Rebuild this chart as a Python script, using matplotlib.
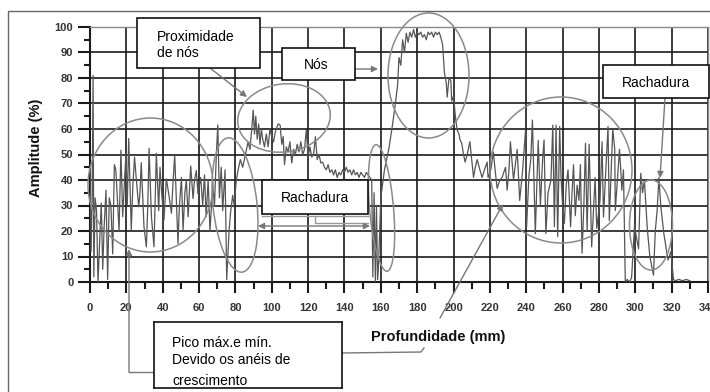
import matplotlib
matplotlib.use('Agg')
import matplotlib.pyplot as plt
from matplotlib.patches import Ellipse, Rectangle
from matplotlib.ticker import MultipleLocator

plt.rcParams['font.family'] = ['Liberation Sans', 'DejaVu Sans']

# ---- data ----
depth = [0, 0.6, 1.2, 1.7, 2.1, 2.8, 3.6, 4.4, 5.2, 6.2, 7.0, 7.8, 8.8, 9.7, 10.6, 11.5,
         12.5, 13.4, 14.2, 15.0, 16.0, 17.0, 18.0, 19.0, 19.8, 20.5, 21.3, 22.7, 23.6, 24.5,
         25.4, 26.8, 27.5, 28.2, 29.7, 31.0, 31.8, 32.5, 33.8, 35.2, 36.5, 37.8, 38.5, 39.3,
         40.7, 42.0, 43.3, 44.8, 45.6, 46.6, 48.4, 49.2, 50.3, 51.2, 52.2, 53.0, 54.0, 55.4,
         56.7, 57.5, 58.5, 59.4, 60.9, 62.0, 63.0, 63.9, 65.0, 66.0, 67.5, 68.5, 69.5, 70.3,
         71.2, 72.2, 73.0, 74.3, 75.2, 76.5, 77.3, 78.5, 79.3, 80.5, 81.5, 82.7, 84.0, 85.5,
         87.0, 88.0, 89.0, 89.8, 90.5, 91.2, 92.0, 92.8, 93.5, 94.3, 95.0, 96.0, 97.0, 98.0,
         99.0, 100.0, 101.0, 102.0, 103.5, 104.6, 105.5, 106.3, 107.0, 108.0, 109.0, 110.0,
         111.0, 112.0, 113.0, 114.0, 115.0, 116.0, 117.0, 118.0, 119.0, 120.0, 121.0, 122.0,
         123.0, 124.0, 125.0, 126.0, 127.0, 128.0, 129.0, 130.0, 131.0, 132.0, 133.0, 134.0,
         135.0, 136.0, 137.0, 138.0, 139.0, 140.0, 141.0, 142.0, 143.0, 144.0, 145.0, 146.0,
         147.0, 148.0, 149.0, 150.0, 151.0, 152.0, 153.0, 154.0, 155.0, 155.6, 156.3, 157.0,
         157.6, 158.2, 158.7, 160.0, 162.0, 164.6, 166.5, 168.0, 169.2, 170.0, 171.0, 172.0,
         173.0, 174.0, 175.0, 176.0, 177.0, 178.0, 179.0, 180.0, 181.0, 182.0, 183.0, 184.0,
         185.0, 186.0, 187.0, 188.0, 189.0, 190.0, 191.0, 192.0, 193.0, 194.0, 195.0, 196.0,
         196.5, 197.5, 198.5, 199.0, 200.0, 201.0, 202.0, 203.0, 203.6, 204.5, 205.5, 206.4,
         207.5, 209.0, 210.0, 211.0, 212.0, 213.0, 214.5, 215.7, 217.0, 218.5, 219.0, 220.5,
         221.9, 223.0, 224.0, 225.5, 226.7, 228.6, 229.5, 230.5, 231.3, 233.0, 235.0, 236.4,
         237.2, 238.0, 239.6, 240.2, 241.5, 242.5, 243.4, 245.0, 246.6, 247.8, 249.0, 249.8,
         250.8, 252.0, 253.6, 254.6, 255.5, 256.4, 257.3, 258.4, 259.1, 260.0, 261.0, 262.0,
         263.0, 264.4, 265.2, 266.0, 267.0, 268.0, 269.0, 269.8, 270.7, 271.7, 272.6, 273.5,
         274.6, 276.0, 277.9, 278.8, 280.6, 281.7, 282.5, 285.0, 285.7, 287.6, 288.7, 289.0,
         291.3, 292.0, 292.6, 293.5, 294.5, 295.5, 297.0, 298.0, 299.6, 300.5, 301.8, 303.0,
         304.0, 305.0, 306.6, 308.0, 310.0, 311.0, 312.0, 313.0, 314.0, 315.7, 318.0, 319.6,
         321.0, 322.0, 324.0, 326.0, 328.0, 330.0]
amplitude = [44, 12, 34, 81, 2, 33, 28, 0, 14, 31, 5, 22, 36, 1, 33, 30,
             11, 46, 44, 33, 20, 51.7, 25.6, 40, 50.5, 30, 56.3, 20.4, 38, 49,
             41, 29.5, 35, 46.8, 21.7, 13.8, 30, 52.4, 25.6, 13.8, 50.5, 28, 45, 36,
             24.3, 40.5, 34.6, 27, 38, 49.8, 15, 30, 41, 20.4, 35, 40, 25.6, 45.5,
             32.7, 40, 43.7, 34.6, 41, 30, 42, 25.6, 40, 20, 38, 30, 50, 61.6,
             33, 45, 28, 44, 1, 20, 27, 34, 30, 40, 44, 48, 45, 50,
             55, 52, 60, 67.4, 58, 65, 56, 62, 54, 60, 56, 53, 58, 53,
             60, 57, 55, 59, 62, 61.5, 54, 57, 46, 53, 51, 55,
             46.7, 52, 50, 54, 51, 55, 50, 52, 59.6, 49, 53, 49,
             50, 57, 48, 50, 46.7, 47, 45, 44, 46, 43, 44, 42,
             44, 41, 43, 42, 44, 43, 45, 43, 44, 42, 44, 42,
             43, 41, 43, 42, 41, 43, 42, 41, 40, 2, 35, 0,
             30, 1, 6, 33, 44, 53, 62, 70, 77, 88, 85, 95,
             90, 97.6, 94, 98, 96, 99, 96, 98, 97, 98, 96, 97,
             95, 98, 97, 98, 96, 98, 97, 98, 96, 93, 82, 78,
             72.5, 80, 79, 71, 73, 65, 59.6, 58, 55.7, 54.5, 50, 47,
             50, 55, 48, 41, 45, 48, 44, 41, 44, 47, 41, 44,
             51, 43, 36.7, 40, 41, 45, 36, 44, 55, 40, 52, 32,
             38, 43.7, 59.6, 21.7, 42, 48, 63.5, 19, 55.5, 30, 48, 55.7,
             19, 35, 40, 61.5, 21.7, 61.5, 17.8, 61, 42, 30, 23, 38,
             44, 21.7, 35, 46, 26, 38, 32, 46, 11.3, 30, 54.4, 20,
             54, 13.8, 41, 21, 32, 55, 25.5, 61, 24, 60, 52, 28,
             52, 44, 36, 44, 0, 1, 0, 2, 22.5, 18, 13, 42.6,
             35, 40, 21, 10, 2.7, 20, 28, 41, 30, 19, 8.6, 12,
             1, 0.5, 1, 0.5, 1, 0.5]

x_ticks = list(range(0, 341, 20))
y_ticks = list(range(0, 101, 10))
x_label = 'Profundidade (mm)'
y_label = 'Amplitude (%)'

W, H = 710, 392
fig = plt.figure(figsize=(W / 100, H / 100), dpi=100)
fig.patch.set_facecolor('white')

ax = fig.add_axes([90 / W, 1 - 282 / H, (708 - 90) / W, (282 - 27) / H])
ax.plot(depth, amplitude, color='#555555', lw=0.9, zorder=3)
ax.set_xlim(0, 340)
ax.set_ylim(0, 100)
ax.set_xticks(x_ticks)
ax.set_yticks(y_ticks)
ax.xaxis.set_minor_locator(MultipleLocator(10))
ax.yaxis.set_minor_locator(MultipleLocator(5))
ax.grid(True, which='major', color='#1a1a1a', lw=1.2, zorder=1)
ax.set_axisbelow(True)
ax.tick_params(axis='x', which='major', length=8, width=1.5, pad=7, labelsize=8, colors='#1a1a1a')
ax.tick_params(axis='x', which='minor', length=5, width=1.5, colors='#1a1a1a')
ax.tick_params(axis='y', which='major', length=9, width=1.5, pad=3, labelsize=8, colors='#1a1a1a')
ax.tick_params(axis='y', which='minor', length=4.5, width=1.5, colors='#1a1a1a')
for lbl in ax.get_xticklabels() + ax.get_yticklabels():
    lbl.set_fontweight('bold')
    lbl.set_color('#333333')
for s in ['left', 'bottom']:
    ax.spines[s].set_color('#1a1a1a')
    ax.spines[s].set_linewidth(1.5)
for s in ['top', 'right']:
    ax.spines[s].set_color('#888888')
    ax.spines[s].set_linewidth(1.0)

# ---- overlay in pixel coordinates for annotations ----
ov = fig.add_axes([0, 0, 1, 1], zorder=5)
ov.set_xlim(0, W)
ov.set_ylim(H, 0)
ov.axis('off')
ov.patch.set_alpha(0)

# outer frame
ov.plot([8, 8, 710], [392, 11, 11], color='#666666', lw=1.0)

ov.text(36, 148, y_label, rotation=90, ha='center', va='center', fontsize=10.5, fontweight='bold', color='#111111')
ov.text(438, 337, x_label, ha='center', va='center', fontsize=10.5, fontweight='bold', color='#111111')

ell_kw = dict(fill=False, ec='#8a8a8a', lw=1.1)
for (cx, cy, w, h, a) in [(150.5, 185, 125, 134, 0), (235, 205, 44, 135, -6),
                          (284, 118, 93, 68, -8), (381.5, 208, 24, 127, -5),
                          (428.5, 75.5, 81, 125, 0), (561, 170, 142, 146, 0),
                          (651, 225, 43, 90, 0)]:
    ov.add_patch(Ellipse((cx, cy), w, h, angle=a, **ell_kw))

box_kw = dict(fc='white', ec='#111111', lw=1.2, zorder=6)
ov.add_patch(Rectangle((137, 18), 123, 50, **box_kw))
ov.text(157, 45, 'Proximidade\nde nós', ha='left', va='center', fontsize=10, linespacing=1.1, zorder=7)
ov.add_patch(Rectangle((282, 48), 73, 32, **box_kw))
ov.text(316, 65, 'Nós', ha='center', va='center', fontsize=10, zorder=7)
ov.add_patch(Rectangle((262, 180), 106, 34, **box_kw))
ov.text(315, 198, 'Rachadura', ha='center', va='center', fontsize=10, zorder=7)
ov.add_patch(Rectangle((603, 65), 106, 33, **box_kw))
ov.text(656, 83, 'Rachadura', ha='center', va='center', fontsize=10, zorder=7)

arr = dict(arrowstyle='-|>', color='#777777', lw=1.0, mutation_scale=9, shrinkA=0, shrinkB=0)
ov.annotate('', xy=(247, 97), xytext=(210, 68), arrowprops=arr)
ov.annotate('', xy=(378, 69), xytext=(355, 69), arrowprops=arr)
ov.annotate('', xy=(660, 178), xytext=(665, 98), arrowprops=arr)
ov.annotate('', xy=(503, 204), xytext=(440, 318), arrowprops=arr)
ov.annotate('', xy=(129, 249), xytext=(129, 372), arrowprops=arr)
ov.plot([154, 129], [372, 372], color='#777777', lw=1.0)
ov.plot([342, 421, 424], [353, 352, 348], color='#777777', lw=1.0)
ov.plot([262, 368], [216, 216], color='#999999', lw=1.0)
ov.plot([315, 315, 368], [216, 223, 223], color='#999999', lw=1.0)
arr2 = dict(arr)
arr2['arrowstyle'] = '<|-|>'
ov.annotate('', xy=(370, 226), xytext=(258, 226), arrowprops=arr2)

# Pico box (text clipped by its frame)
pb = fig.add_axes([154 / W, 1 - 388 / H, (342 - 154) / W, (388 - 322) / H], zorder=8)
pb.set_xlim(0, 188)
pb.set_ylim(66, 0)
pb.set_xticks([])
pb.set_yticks([])
for s in pb.spines.values():
    s.set_color('#111111')
    s.set_linewidth(1.2)
pb.text(18, 21, 'Pico máx.e mín.', ha='left', va='center', fontsize=10, clip_on=True)
pb.text(18, 38, 'Devido os anéis de', ha='left', va='center', fontsize=10, clip_on=True)
pb.text(18, 59, 'crescimento', ha='left', va='center', fontsize=10, clip_on=True)

fig.savefig('out.png', dpi=100)
